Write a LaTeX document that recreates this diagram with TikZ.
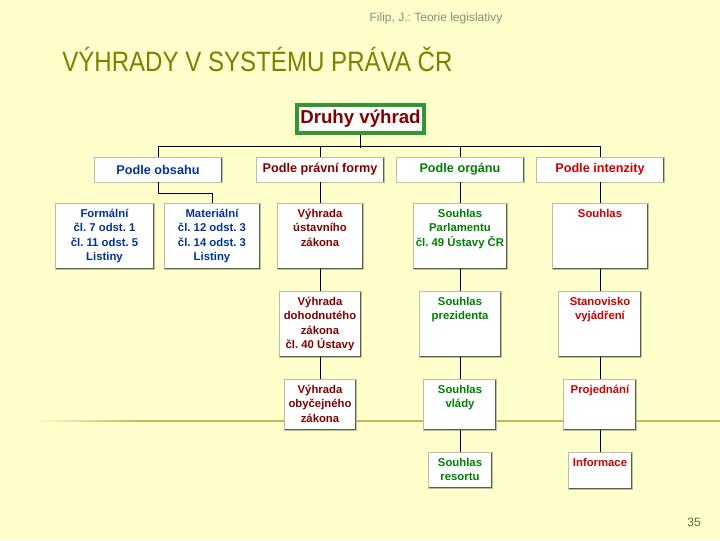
\documentclass[tikz,border=0pt]{standalone}
\usepackage{fontspec}
\setmainfont{Liberation Sans}
\usepackage{graphicx}
\frenchspacing
\definecolor{bgc}{RGB}{255,255,204}
\definecolor{goldc}{RGB}{204,180,84}
\definecolor{titlec}{RGB}{128,128,0}
\definecolor{headc}{RGB}{140,140,110}
\definecolor{numc}{RGB}{90,110,50}
\definecolor{dblue}{RGB}{0,51,153}
\definecolor{dred}{RGB}{128,0,0}
\definecolor{dgreen}{RGB}{0,128,0}
\definecolor{bred}{RGB}{204,0,0}
\definecolor{frame}{RGB}{51,150,51}
\definecolor{lightedge}{RGB}{190,190,165}
\definecolor{darkedge}{RGB}{95,95,60}
\newcommand\bt[3]{\parbox[c][#2pt][t]{#1pt}{\centering\frenchspacing\vspace*{3.5pt}\strut #3}}
\begin{document}
\begin{tikzpicture}[x=0.75pt,y=-0.75pt,
  topbox/.style={draw=frame,line width=3pt,fill=white,inner sep=0pt,
    minimum width=95.5pt,minimum height=21pt,text=dred,
    font=\fontsize{14}{16}\selectfont\bfseries},
  catbox/.style={draw=lightedge,line width=0.5pt,fill=white,inner sep=0pt,
    minimum width=96pt,minimum height=18.75pt,
    font=\fontsize{9.5}{11}\selectfont\bfseries,
    path picture={\draw[darkedge,line width=2pt]
      (path picture bounding box.north east) -- (path picture bounding box.south east);}},
  leaf/.style={draw=lightedge,line width=0.6pt,fill=white,inner sep=0pt,
    font=\fontsize{8.5}{10.7}\selectfont\bfseries,
    path picture={\draw[darkedge,line width=1.6pt]
      (path picture bounding box.north east) -- (path picture bounding box.south east)
      -- (path picture bounding box.south west);}},
  conn/.style={draw=black,line width=0.75pt}
]
\useasboundingbox (0,0) rectangle (720,540);
\fill[bgc] (0,0) rectangle (720,540);
% gold rule
\shade[left color=bgc,right color=goldc] (30,420.2) rectangle (140,421.8);
\fill[goldc] (140,420.2) rectangle (720,421.8);
% header, title, page number
\node[anchor=base,text=headc,font=\fontsize{9}{11}\selectfont] (head) at (436,21) {Filip, J.: Teorie legislativy};
\node[anchor=base west,inner sep=0pt,text=titlec,font=\fontsize{21}{25}\selectfont] (title) at (62,71)
  {\scalebox{0.86}[1]{VÝHRADY V SYSTÉMU PRÁVA ČR}};
\node[anchor=base,text=numc,font=\fontsize{9}{11}\selectfont] (num) at (694,526) {35};
% top
\node[topbox] (druhy) at (360.5,118.5) {Druhy výhrad};
% categories
\node[catbox,text=dblue] (obsahu) at (158,169.5) {Podle obsahu};
\node[catbox,text=dred] (pravni) at (320,169.5) {Podle právní formy};
\node[catbox,text=dgreen] (organ) at (460,169.5) {Podle orgánu};
\node[catbox,text=bred] (intenz) at (600,169.5) {Podle intenzity};
% level 2
\node[leaf,text=dblue] (form) at (104.5,236) {\bt{74.25}{49.5}{Formální\\čl. 7 odst. 1\\čl. 11 odst. 5\\Listiny}};
\node[leaf,text=dblue] (mat) at (212,236) {\bt{72}{49.5}{Materiální\\čl. 12 odst. 3\\čl. 14 odst. 3\\Listiny}};
\node[leaf,text=dred] (vus) at (320,236) {\bt{64.5}{49.5}{Výhrada\\ústavního\\zákona}};
\node[leaf,text=dgreen] (sparl) at (460,236) {\bt{70.5}{49.5}{Souhlas\\Parlamentu\\čl. 49 Ústavy ČR}};
\node[leaf,text=bred] (sou) at (600,236) {\bt{72}{49.5}{Souhlas}};
% level 3
\node[leaf,text=dred] (vdoh) at (320,324) {\bt{61.5}{49.5}{Výhrada\\dohodnutého\\zákona\\čl. 40 Ústavy}};
\node[leaf,text=dgreen] (spre) at (460,324) {\bt{61.5}{49.5}{Souhlas\\prezidenta}};
\node[leaf,text=bred] (stan) at (600,324) {\bt{62.25}{49.5}{Stanovisko\\vyjádření}};
% level 4
\node[leaf,text=dred] (vob) at (320,404.5) {\bt{54}{38.25}{Výhrada\\obyčejného\\zákona}};
\node[leaf,text=dgreen] (svl) at (460,404.5) {\bt{54.75}{38.25}{Souhlas\\vlády}};
\node[leaf,text=bred] (proj) at (600,404.5) {\bt{54.75}{38.25}{Projednání}};
% level 5
\node[leaf,text=dgreen] (sres) at (460,470) {\bt{48}{27}{Souhlas\\resortu}};
\node[leaf,text=bred] (info) at (600,470.5) {\bt{48}{27.75}{Informace}};
% connectors
\draw[conn] (druhy.south) -- ++(0,13);
\draw[conn] (obsahu.north) -- ++(0,-10) -| (intenz.north);
\draw[conn] (pravni.north) -- ++(0,-10);
\draw[conn] (organ.north) -- ++(0,-10);
\draw[conn] (obsahu.south) -- ++(0,11) -| (mat.north);
\draw[conn] (pravni.south) -- (vus.north);
\draw[conn] (vus.south) -- (vdoh.north);
\draw[conn] (vdoh.south) -- (vob.north);
\draw[conn] (organ.south) -- (sparl.north);
\draw[conn] (sparl.south) -- (spre.north);
\draw[conn] (spre.south) -- (svl.north);
\draw[conn] (svl.south) -- (sres.north);
\draw[conn] (intenz.south) -- (sou.north);
\draw[conn] (sou.south) -- (stan.north);
\draw[conn] (stan.south) -- (proj.north);
\draw[conn] (proj.south) -- (info.north);
\end{tikzpicture}
\end{document}
